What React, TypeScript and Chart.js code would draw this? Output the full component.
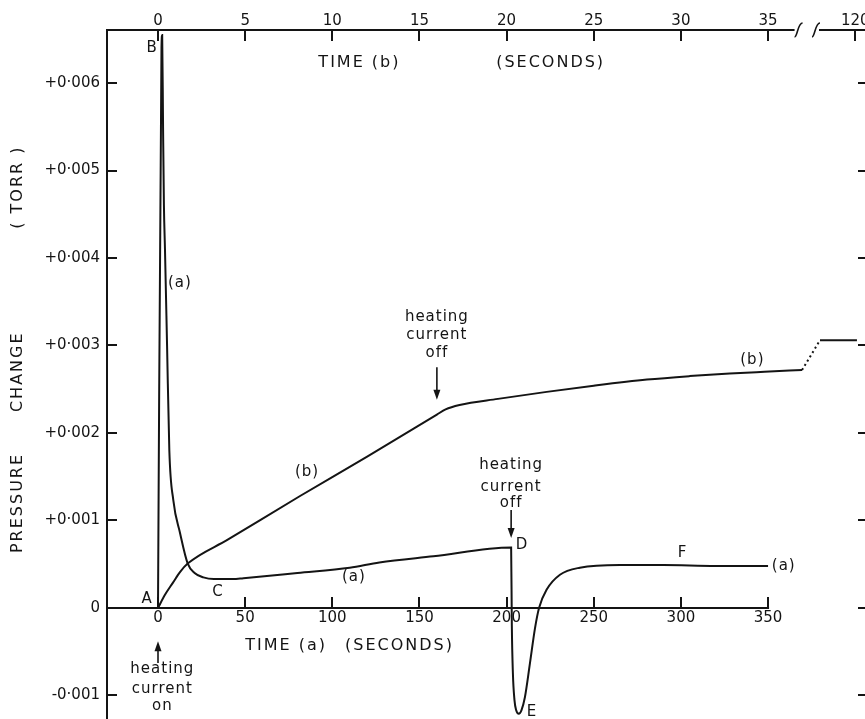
import React, { useEffect, useRef } from "react";
import { Chart, registerables } from "chart.js";

Chart.register(...registerables);

// ---- data: curve (a), bottom time axis (seconds) ----
const timeA = [0, 2.0, 2.4, 2.9, 3.4, 4.0, 5.2, 6.5, 8.8, 12.6, 17, 21, 26, 32, 37, 43, 49, 80, 110, 127, 158, 202.6, 203.0, 203.6, 204.5, 205.5, 207, 208.5, 210.5, 213.4, 216.3, 218.6, 223, 230.6, 242, 265, 290, 320, 350];
const pressureA = [0, 0.0064, 0.00655, 0.0055, 0.0046, 0.0041, 0.003, 0.0018, 0.00123, 0.00086, 0.00051, 0.0004, 0.00035, 0.00033, 0.00033, 0.00033, 0.00034, 0.0004, 0.00046, 0.00052, 0.00059, 0.00069, -0.0002, -0.00074, -0.00105, -0.00117, -0.00121, -0.00117, -0.00102, -0.00063, -0.00023, 0, 0.00021, 0.00038, 0.00046, 0.00049, 0.00049, 0.00048, 0.00048];

// ---- data: curve (b), top time axis (seconds) ----
const timeB = [0, 0.4, 0.86, 1.26, 1.72, 4, 8.15, 12, 16.0, 16.5, 17.3, 19.5, 22.3, 25, 28.05, 30.5, 32.8, 34.8, 36.95];
const pressureB = [0, 0.00015, 0.00029, 0.00041, 0.00051, 0.00078, 0.00128, 0.00173, 0.00221, 0.00227, 0.00232, 0.00239, 0.00247, 0.00254, 0.00261, 0.00265, 0.00268, 0.0027, 0.00272];
const timeBDotted = [36.95, 37.98];
const pressureBDotted = [0.00272, 0.00306];
const timeBLate = [37.98, 40.1];
const pressureBLate = [0.00306, 0.00306];

// ---- ticks ----
const timeATicks = [0, 50, 100, 150, 200, 250, 300, 350];
const timeBTicks = [0, 5, 10, 15, 20, 25, 30, 35, 40];
const timeBTickLabels = ["0", "5", "10", "15", "20", "25", "30", "35", "120"];
const pressureTicks = [-0.001, 0, 0.001, 0.002, 0.003, 0.004, 0.005, 0.006];
const pressureTickLabels = ["-0·001", "0", "+0·001", "+0·002", "+0·003", "+0·004", "+0·005", "+0·006"];

// ---- axis ranges ----
const timeARange = [-29.26, 401.6];
const timeBRange = [-2.926, 40.16];
const pressureRange = [-0.001269, 0.006606];
const timeBBreak = [36.75, 37.75];

// ---- annotations (data coordinates) ----
const labelTexts = ["B", "(a)", "A", "C", "(b)", "(a)", "D", "E", "F", "(a)", "(b)"];
const labelAxes = ["x", "x", "x", "x", "x", "x", "x", "x", "x", "x", "x2"];
const labelX = [-3.4, 12.6, -6.3, 34.4, 85.5, 112.4, 208.8, 214.6, 301, 359, 34.1];
const labelY = [0.0064, 0.00371, 0.0001, 0.00018, 0.00155, 0.00035, 0.00072, -0.00119, 0.00063, 0.00048, 0.00283];

const noteLines = ["heating", "current", "off", "heating", "current", "off", "heating", "current", "on"];
const noteAxes = ["x2", "x2", "x2", "x", "x", "x", "x", "x", "x"];
const noteX = [16.0, 16.0, 16.0, 202.6, 202.6, 202.6, 2.5, 2.5, 2.5];
const noteY = [0.00333, 0.00312, 0.00291, 0.00163, 0.00138, 0.0012, -0.0007, -0.00093, -0.00112];

const arrowAxes = ["x2", "x", "x"];
const arrowX = [16.0, 202.6, 0];
const arrowFrom = [0.00275, 0.00112, -0.00063];
const arrowTo = [0.00238, 0.0008, -0.00038];

const INK = "#141414";
const FONT = "DejaVu Sans";

const annotatePlugin = {
  id: "annotate",
  afterDraw(chart: any) {
    const ctx = chart.ctx as CanvasRenderingContext2D;
    const ca = chart.chartArea;
    const sx = chart.scales.x;
    const sx2 = chart.scales.x2;
    const sy = chart.scales.y;
    const sc: any = { x: sx, x2: sx2 };
    ctx.save();
    ctx.strokeStyle = INK;
    ctx.fillStyle = INK;
    ctx.lineWidth = 2;

    // bottom time axis line (ends at last tick)
    const y0 = sy.getPixelForValue(0);
    ctx.beginPath();
    ctx.moveTo(ca.left, y0);
    ctx.lineTo(sx.getPixelForValue(timeATicks[timeATicks.length - 1]) + 1, y0);
    ctx.stroke();

    // top axis line with break
    const bA = sx2.getPixelForValue(timeBBreak[0]);
    const bB = sx2.getPixelForValue(timeBBreak[1]);
    ctx.beginPath();
    ctx.moveTo(ca.left, ca.top);
    ctx.lineTo(bA - 4, ca.top);
    ctx.moveTo(bB + 3, ca.top);
    ctx.lineTo(chart.width, ca.top);
    ctx.stroke();
    ctx.lineWidth = 1.6;
    for (const bx of [bA, bB]) {
      ctx.beginPath();
      ctx.moveTo(bx - 4, ca.top + 7);
      ctx.bezierCurveTo(bx - 1, ca.top + 7, bx - 1, ca.top - 7, bx + 4, ca.top - 7);
      ctx.stroke();
    }

    // titles
    ctx.font = `16px ${FONT}`;
    (ctx as any).letterSpacing = "2px";
    ctx.textBaseline = "middle";
    ctx.textAlign = "left";
    ctx.fillText("TIME (a)", sx.getPixelForValue(50), sy.getPixelForValue(-0.00043));
    ctx.fillText("(SECONDS)", sx.getPixelForValue(107.3), sy.getPixelForValue(-0.00043));
    ctx.fillText("TIME (b)", sx2.getPixelForValue(9.2), ca.top + 33);
    ctx.fillText("(SECONDS)", sx2.getPixelForValue(19.4), ca.top + 33);

    ctx.save();
    ctx.textAlign = "center";
    const tx = sy.left + 18;
    const words = ["PRESSURE", "CHANGE", "( TORR )"];
    const wordY = [0.0012, 0.0027, 0.00481];
    words.forEach((w, i) => {
      ctx.save();
      ctx.translate(tx, sy.getPixelForValue(wordY[i]));
      ctx.rotate(-Math.PI / 2);
      ctx.fillText(w, 0, 0);
      ctx.restore();
    });
    ctx.restore();

    // point labels
    (ctx as any).letterSpacing = "1px";
    ctx.font = `15px ${FONT}`;
    ctx.textAlign = "center";
    labelTexts.forEach((t, i) => {
      ctx.fillText(t, sc[labelAxes[i]].getPixelForValue(labelX[i]), sy.getPixelForValue(labelY[i]));
    });

    noteLines.forEach((t, i) => {
      ctx.fillText(t, sc[noteAxes[i]].getPixelForValue(noteX[i]), sy.getPixelForValue(noteY[i]));
    });

    // arrows
    ctx.lineWidth = 1.6;
    arrowAxes.forEach((a, i) => {
      const ax = sc[a].getPixelForValue(arrowX[i]);
      const y1 = sy.getPixelForValue(arrowFrom[i]);
      const y2 = sy.getPixelForValue(arrowTo[i]);
      const dir = y2 > y1 ? 1 : -1;
      ctx.beginPath();
      ctx.moveTo(ax, y1);
      ctx.lineTo(ax, y2 - dir * 6);
      ctx.stroke();
      ctx.beginPath();
      ctx.moveTo(ax, y2);
      ctx.lineTo(ax - 3.5, y2 - dir * 10);
      ctx.lineTo(ax + 3.5, y2 - dir * 10);
      ctx.closePath();
      ctx.fill();
    });

    ctx.restore();
  },
};

const zeroPad = (s: any) => {
  s.paddingLeft = 0;
  s.paddingRight = 0;
  s.paddingTop = 0;
  s.paddingBottom = 0;
};

export default function App() {
  const ref = useRef<HTMLCanvasElement | null>(null);

  useEffect(() => {
    if (!ref.current) return;
    const toPts = (xs: number[], ys: number[]) => xs.map((x, i) => ({ x, y: ys[i] }));
    const tickFont = { family: FONT, size: 15 };

    const chart = new Chart(ref.current, {
      type: "line",
      data: {
        datasets: [
          {
            data: toPts(timeA, pressureA),
            xAxisID: "x",
            yAxisID: "y",
            borderColor: INK,
            borderWidth: 2,
            pointRadius: 0,
            cubicInterpolationMode: "monotone",
          },
          {
            data: toPts(timeB, pressureB),
            xAxisID: "x2",
            yAxisID: "y",
            borderColor: INK,
            borderWidth: 2,
            pointRadius: 0,
            cubicInterpolationMode: "monotone",
          },
          {
            data: toPts(timeBDotted, pressureBDotted),
            xAxisID: "x2",
            yAxisID: "y",
            borderColor: INK,
            borderWidth: 2,
            borderDash: [2, 3],
            pointRadius: 0,
          },
          {
            data: toPts(timeBLate, pressureBLate),
            xAxisID: "x2",
            yAxisID: "y",
            borderColor: INK,
            borderWidth: 2,
            pointRadius: 0,
          },
        ],
      },
      options: {
        animation: false,
        responsive: true,
        maintainAspectRatio: false,
        layout: { padding: 0 },
        plugins: { legend: { display: false }, tooltip: { enabled: false } },
        scales: {
          x: {
            type: "linear",
            position: { y: 0 } as any,
            min: timeARange[0],
            max: timeARange[1],
            afterBuildTicks: (s: any) => {
              s.ticks = timeATicks.map((v) => ({ value: v }));
            },
            afterFit: zeroPad,
            border: { display: false },
            grid: { drawOnChartArea: false, tickLength: -11, color: INK, lineWidth: 2 },
            ticks: {
              autoSkip: false,
              maxRotation: 0,
              padding: 12,
              color: INK,
              font: tickFont,
              callback: (v: any) => String(v),
            },
          },
          x2: {
            type: "linear",
            position: "top",
            min: timeBRange[0],
            max: timeBRange[1],
            afterBuildTicks: (s: any) => {
              s.ticks = timeBTicks.map((v) => ({ value: v }));
            },
            afterFit: (s: any) => {
              zeroPad(s);
              s.height = 30;
            },
            border: { display: false },
            grid: { drawOnChartArea: false, tickLength: -11, color: INK, lineWidth: 2 },
            ticks: {
              autoSkip: false,
              maxRotation: 0,
              padding: 11,
              color: INK,
              font: tickFont,
              callback: (v: any) => {
                const i = timeBTicks.indexOf(Number(v));
                return i >= 0 ? timeBTickLabels[i] : "";
              },
            },
          },
          y: {
            type: "linear",
            position: "left",
            min: pressureRange[0],
            max: pressureRange[1],
            afterBuildTicks: (s: any) => {
              s.ticks = pressureTicks.map((v) => ({ value: v }));
            },
            afterFit: (s: any) => {
              zeroPad(s);
              s.width = 107;
            },
            border: { display: true, color: INK, width: 2 },
            grid: { drawOnChartArea: false, tickLength: -10, color: INK, lineWidth: 2 },
            ticks: {
              autoSkip: false,
              padding: 17,
              color: INK,
              font: tickFont,
              callback: (v: any) => {
                const i = pressureTicks.findIndex((p) => Math.abs(p - Number(v)) < 1e-9);
                return i >= 0 ? pressureTickLabels[i] : "";
              },
            },
          },
          yR: {
            type: "linear",
            position: "right",
            min: pressureRange[0],
            max: pressureRange[1],
            afterBuildTicks: (s: any) => {
              s.ticks = pressureTicks.map((v) => ({ value: v }));
            },
            afterFit: (s: any) => {
              zeroPad(s);
              s.width = 7;
            },
            border: { display: false },
            grid: { drawOnChartArea: false, tickLength: 7, color: INK, lineWidth: 2 },
            ticks: { display: false },
          },
        },
      } as any,
      plugins: [annotatePlugin],
    });

    return () => chart.destroy();
  }, []);

  return (
    <div style={{ position: "fixed", left: 0, top: 0, width: 865, height: 719, background: "#fff" }}>
      <canvas ref={ref} />
    </div>
  );
}
